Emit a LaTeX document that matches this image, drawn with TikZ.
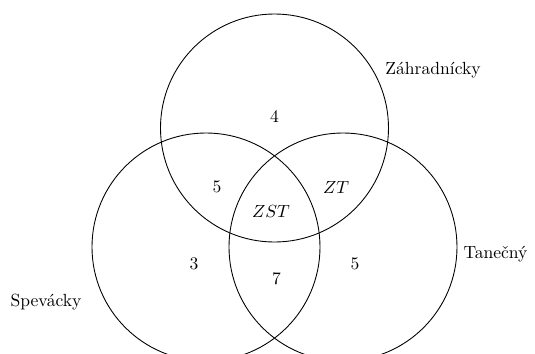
\documentclass[tikz,border=0pt]{standalone}
\usepackage{amsmath,amssymb}
\usepackage{tikz}
\usetikzlibrary{positioning}
\tikzset{
    % krúžok jednej skupiny
    kruh/.style={
        line width=0.5pt,
        black
    },
    % počet v oblasti
    pocet/.style={
        black,
        inner sep=1pt
    },
    % názov skupiny
    nazov/.style={
        black,
        inner sep=1pt
    }
}
\begin{document}
\begin{tikzpicture}
    \useasboundingbox (0,0) rectangle (10.7,7.06);
    \clip (0,0) rectangle (10.7,7.06);

    % ===================== stredy krúžkov =====================
    \path
    (5.49,4.50) coordinate (z)
    (4.12,2.12) coordinate (s)
    (6.86,2.12) coordinate (t)
    ;

    \draw[kruh] (z) circle (2.28cm);
    \draw[kruh] (s) circle (2.28cm);
    \draw[kruh] (t) circle (2.28cm);

    % počty v oblastiach
    \node[pocet] (n4) at (5.49,4.73) {4};
    \node[pocet] (nzs) at (4.34,3.32) {5};
    \node[pocet] (nzt) at (6.72,3.32) {$ZT$};
    \node[pocet] (nzst) at (5.42,2.83) {$ZST$};
    \node[pocet] (n3) at (3.88,1.78) {3};
    \node[pocet] (nst) at (5.53,1.48) {7};
    \node[pocet] (n5) at (7.10,1.78) {5};

    % názvy skupín
    \node[nazov] (lz) at (8.66,5.65) {Záhradnícky};
    \node[nazov] (lt) at (9.91,1.98) {Tanečný};
    \node[nazov] (ls) at (0.92,1.02) {Spevácky};
\end{tikzpicture}
\end{document}
